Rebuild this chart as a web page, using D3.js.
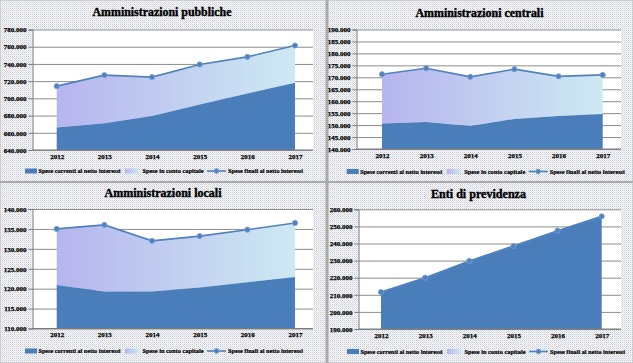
<!DOCTYPE html>
<html>
<head>
<meta charset="utf-8">
<script src="https://cdn.jsdelivr.net/npm/d3@7"></script>
<style>
  body { margin: 0; background: #fff; }
  svg { display: block; }
  text { font-family: "Liberation Serif", "Times New Roman", serif; font-weight: bold; fill: #000; }
</style>
</head>
<body>
<div id="chart"></div>
<script>
// years on the x axis
var years = ["2012", "2013", "2014", "2015", "2016", "2017"];

// series names (legend)
var seriesNames = ["Spese correnti al netto interessi", "Spese in conto capitale", "Spese finali al netto interessi"];

// Amministrazioni pubbliche (migliaia)
var pubCorrenti = [666000, 671000, 679400, 693000, 705700, 718000];
var pubCapitale = [48200, 56000, 45300, 46400, 42500, 43400];
var pubTicks = [640000, 660000, 680000, 700000, 720000, 740000, 760000, 780000];

// Amministrazioni centrali
var cenCorrenti = [150700, 151300, 149600, 152600, 153800, 154600];
var cenCapitale = [20600, 22500, 20600, 20800, 16600, 16400];
var cenTicks = [140000, 145000, 150000, 155000, 160000, 165000, 170000, 175000, 180000, 185000, 190000];

// Amministrazioni locali
var locCorrenti = [120900, 119300, 119300, 120300, 121600, 122900];
var locCapitale = [14100, 16700, 12700, 12900, 13200, 13600];
var locTicks = [110000, 115000, 120000, 125000, 130000, 135000, 140000];

// Enti di previdenza
var preCorrenti = [211400, 219800, 229600, 238300, 247300, 255700];
var preCapitale = [200, 200, 200, 200, 200, 200];
var preTicks = [190000, 200000, 210000, 220000, 230000, 240000, 250000, 260000];

var W = 633, H = 363;
var darkBlue = "#4a7ebb";
var lineBlue = "#4f81bd";

var itLocale = d3.formatLocale({decimal: ",", thousands: ".", grouping: [3], currency: ["€", ""]});
var fmt = itLocale.format(",.0f");

var svg = d3.select("#chart").append("svg")
    .attr("width", W)
    .attr("height", H);

var defs = svg.append("defs");

// dotted background like the original
var pat = defs.append("pattern")
    .attr("id", "dots")
    .attr("width", 2).attr("height", 2)
    .attr("patternUnits", "userSpaceOnUse");
pat.append("rect").attr("width", 2).attr("height", 2).attr("fill", "#fbfbfd");
pat.append("rect").attr("x", 0).attr("y", 0).attr("width", 1).attr("height", 1).attr("fill", "#c8ccd6");
pat.append("rect").attr("x", 1).attr("y", 1).attr("width", 1).attr("height", 1).attr("fill", "#dde0e6");

svg.append("rect").attr("width", W).attr("height", H).attr("fill", "url(#dots)");

// gradient for the capital spending area
var grad = defs.append("linearGradient")
    .attr("id", "lightFill")
    .attr("x1", "0%").attr("x2", "100%").attr("y1", "0%").attr("y2", "0%");
grad.append("stop").attr("offset", "0%").attr("stop-color", "#b6b5ee");
grad.append("stop").attr("offset", "100%").attr("stop-color", "#cde9f3");

// panel separators
svg.append("rect").attr("x", 325.5).attr("y", 0).attr("width", 3).attr("height", H).attr("fill", "#a9a9a9");
svg.append("rect").attr("x", 0).attr("y", 181).attr("width", W).attr("height", 2).attr("fill", "#a9a9a9");
svg.append("rect").attr("x", 0.5).attr("y", 0.5).attr("width", W - 1).attr("height", H - 1)
    .attr("fill", "none").attr("stroke", "#b8b8b8").attr("stroke-dasharray", "1,1");

var panels = [
  {title: "Amministrazioni pubbliche", correnti: pubCorrenti, capitale: pubCapitale, ticks: pubTicks,
   left: 32.5, right: 313, top: 29.5, bottom: 150, xFirst: 56.7, xLast: 295,
   titleX: 162, titleY: 16, titleW: 139, legX: 0, legY: 171},
  {title: "Amministrazioni centrali", correnti: cenCorrenti, capitale: cenCapitale, ticks: cenTicks,
   left: 356.5, right: 621, top: 29.5, bottom: 149, xFirst: 382, xLast: 602.7,
   titleX: 479.5, titleY: 16.5, titleW: 128, legX: 321.7, legY: 171.5},
  {title: "Amministrazioni locali", correnti: locCorrenti, capitale: locCapitale, ticks: locTicks,
   left: 32.5, right: 313, top: 209, bottom: 328.5, xFirst: 56.7, xLast: 295,
   titleX: 163, titleY: 197, titleW: 117, legX: 0, legY: 351},
  {title: "Enti di previdenza", correnti: preCorrenti, capitale: preCapitale, ticks: preTicks,
   left: 358.5, right: 621, top: 209.3, bottom: 329, xFirst: 381, xLast: 601.7,
   titleX: 478.5, titleY: 198, titleW: 95, legX: 322, legY: 351.5}
];

panels.forEach(function(p) { drawPanel(p); });

function boldText(sel, size, sw) {
  sel.style("font-family", "'Liberation Serif', serif")
    .style("font-weight", "bold")
    .style("font-size", size)
    .attr("fill", "#000")
    .attr("stroke", "#000")
    .attr("stroke-width", sw);
}

function drawPanel(p) {
  var g = svg.append("g");

  var x = d3.scalePoint()
    .domain(years)
    .range([p.xFirst, p.xLast]);

  var y = d3.scaleLinear()
    .domain(d3.extent(p.ticks))
    .range([p.bottom, p.top]);

  var rows = years.map(function(yr, i) {
    return {year: yr, correnti: p.correnti[i], capitale: p.capitale[i]};
  });
  var stacked = d3.stack().keys(["correnti", "capitale"])(rows);

  // plot area
  g.append("rect")
    .attr("x", p.left).attr("y", p.top)
    .attr("width", p.right - p.left).attr("height", p.bottom - p.top)
    .attr("fill", "#fff");

  // gridlines
  g.append("g")
    .attr("transform", "translate(" + p.left + ",0)")
    .call(d3.axisLeft(y).tickValues(p.ticks).tickSize(-(p.right - p.left)).tickFormat(""))
    .call(function(a) {
      a.select(".domain").remove();
      a.selectAll("line").attr("stroke", "#8c8c8c").attr("stroke-width", 1);
    });

  // areas
  var areaDark = d3.area()
    .x(function(d) { return x(d.data.year); })
    .y0(p.bottom)
    .y1(function(d) { return y(d[1]); });
  var areaLight = d3.area()
    .x(function(d) { return x(d.data.year); })
    .y0(function(d) { return y(d[0]); })
    .y1(function(d) { return y(d[1]); });

  g.append("path")
    .datum(stacked[1])
    .attr("d", areaLight)
    .attr("fill", "url(#lightFill)");
  g.append("path")
    .datum(stacked[0])
    .attr("d", areaDark)
    .attr("fill", darkBlue);

  // total line (top of the stack)
  var line = d3.line()
    .x(function(d) { return x(d.data.year); })
    .y(function(d) { return y(d[1]); });
  g.append("path")
    .datum(stacked[1])
    .attr("d", line)
    .attr("fill", "none")
    .attr("stroke", lineBlue)
    .attr("stroke-width", 1.6);
  g.selectAll(".mk")
    .data(stacked[1])
    .enter()
    .append("circle")
      .attr("cx", function(d) { return x(d.data.year); })
      .attr("cy", function(d) { return y(d[1]); })
      .attr("r", 2.6)
      .attr("fill", lineBlue)
      .attr("stroke", "#79a1d6")
      .attr("stroke-width", 0.8);

  // y axis
  g.append("g")
    .attr("transform", "translate(" + p.left + ",0)")
    .call(d3.axisLeft(y).tickValues(p.ticks).tickSize(4).tickPadding(2).tickFormat(fmt))
    .call(function(a) {
      a.select(".domain").attr("stroke", "#7a7a7a");
      a.selectAll("line").attr("stroke", "#7a7a7a");
      a.selectAll("text").call(boldText, "7px", 0.25);
    });

  // x axis
  g.append("g")
    .attr("transform", "translate(0," + p.bottom + ")")
    .call(d3.axisBottom(x).tickSize(0).tickPadding(4))
    .call(function(a) {
      a.select(".domain").attr("d", "M" + p.left + ",0H" + p.right).attr("stroke", "#7a7a7a");
      a.selectAll("text").call(boldText, "7px", 0.25);
    });

  // title
  g.append("text")
    .attr("x", p.titleX)
    .attr("y", p.titleY)
    .attr("text-anchor", "middle")
    .attr("textLength", p.titleW)
    .attr("lengthAdjust", "spacingAndGlyphs")
    .call(boldText, "12.5px", 0.4)
    .text(p.title);

  // legend
  var lg = g.append("g").attr("transform", "translate(" + p.legX + "," + p.legY + ")");
  lg.append("rect").attr("x", 25).attr("y", -2.5).attr("width", 12).attr("height", 5).attr("fill", darkBlue);
  lg.append("text").attr("x", 38.5).attr("y", 2.2)
    .attr("textLength", 82).attr("lengthAdjust", "spacingAndGlyphs")
    .call(boldText, "6.3px", 0.2).text(seriesNames[0]);
  lg.append("rect").attr("x", 125).attr("y", -2.5).attr("width", 14).attr("height", 5).attr("fill", "url(#lightFill)");
  lg.append("text").attr("x", 142.5).attr("y", 2.2)
    .attr("textLength", 61).attr("lengthAdjust", "spacingAndGlyphs")
    .call(boldText, "6.3px", 0.2).text(seriesNames[1]);
  lg.append("line").attr("x1", 207).attr("x2", 226).attr("y1", 0).attr("y2", 0)
    .attr("stroke", lineBlue).attr("stroke-width", 1.6);
  lg.append("circle").attr("cx", 216.5).attr("cy", 0).attr("r", 2.4)
    .attr("fill", lineBlue).attr("stroke", "#79a1d6").attr("stroke-width", 0.8);
  lg.append("text").attr("x", 228).attr("y", 2.2)
    .attr("textLength", 75).attr("lengthAdjust", "spacingAndGlyphs")
    .call(boldText, "6.3px", 0.2).text(seriesNames[2]);
}
</script>
</body>
</html>
